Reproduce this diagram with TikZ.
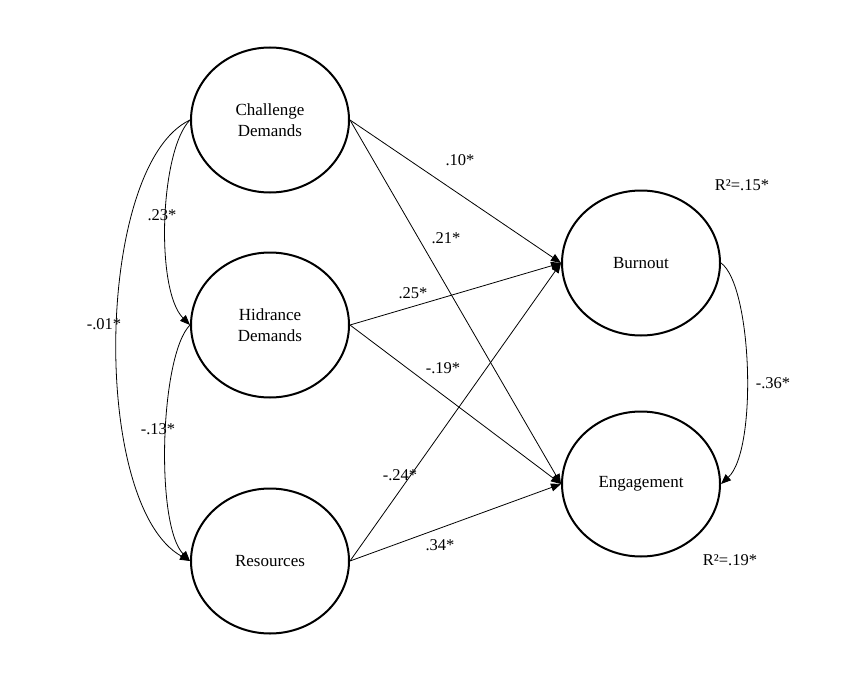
\documentclass[tikz,border=0pt]{standalone}
\usepackage{fontspec}
\setmainfont{Liberation Serif}
\usetikzlibrary{shapes.geometric,arrows.meta}
\begin{document}
\begin{tikzpicture}[x=1pt,y=-1pt,
  latent/.style={draw,line width=2pt,ellipse,minimum width=158pt,minimum height=145pt,inner sep=0pt,align=center,font=\fontsize{17}{20.5}\selectfont},
  path/.style={draw,line width=0.8pt,-{Triangle[length=10pt,width=8pt]}},
  lbl/.style={font=\fontsize{16.5}{19}\selectfont,inner sep=0pt}]
\useasboundingbox (0,0) rectangle (862,682);
\node[latent] (C) at (270,120) {Challenge\\Demands};
\node[latent] (H) at (270,325) {Hidrance\\Demands};
\node[latent] (R) at (270,561) {Resources};
\node[latent] (B) at (641,263) {Burnout};
\node[latent] (E) at (641,484) {Engagement};
\draw[path] (C.east) -- (B.west);
\draw[path] (C.east) -- (E.west);
\draw[path] (H.east) -- (B.west);
\draw[path] (H.east) -- (E.west);
\draw[path] (R.east) -- (B.west);
\draw[path] (R.east) -- (E.west);
\draw[path] (C.west) .. controls (160,150) and (155,290) .. (H.west);
\draw[path] (C.west) .. controls (95,165) and (90,505) .. (R.west);
\draw[path] (H.west) .. controls (160,355) and (155,525) .. (R.west);
\draw[path] (B.east) .. controls (752,285) and (758,450) .. (E.east);
\node[lbl] (l1) at (460,160) {.10*};
\node[lbl] (l2) at (446,238) {.21*};
\node[lbl] (l3) at (413,293) {.25*};
\node[lbl] (l4) at (443,368) {-.19*};
\node[lbl] (l5) at (400,475) {-.24*};
\node[lbl] (l6) at (440,545) {.34*};
\node[lbl] (l7) at (162,215) {.23*};
\node[lbl] (l8) at (104,324) {-.01*};
\node[lbl] (l9) at (158,429) {-.13*};
\node[lbl] (l10) at (773,383) {-.36*};
\node[lbl] (r1) at (742,185) {R²=.15*};
\node[lbl] (r2) at (730,560) {R²=.19*};
\end{tikzpicture}
\end{document}
